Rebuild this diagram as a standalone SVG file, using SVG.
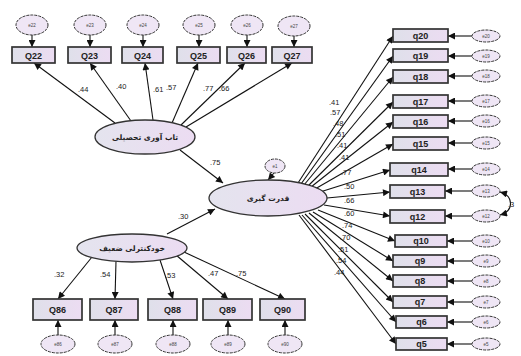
<svg xmlns="http://www.w3.org/2000/svg" width="521" height="356" viewBox="0 0 521 356">
<defs>
<linearGradient id="bx" x1="0" y1="0" x2="1" y2="0"><stop offset="0" stop-color="#dfe0ea"/><stop offset="1" stop-color="#ecdcf2"/></linearGradient>
<linearGradient id="lt" x1="0" y1="0" x2="1" y2="0"><stop offset="0" stop-color="#e4e4ee"/><stop offset="1" stop-color="#ecdcf2"/></linearGradient>
<marker id="ah" viewBox="0 0 10 10" refX="10" refY="5" markerWidth="9" markerHeight="7" markerUnits="userSpaceOnUse" orient="auto"><path d="M0,0 L10,5 L0,10 z" fill="#111"/></marker>
<marker id="as" viewBox="0 0 10 10" refX="0" refY="5" markerWidth="9" markerHeight="7" markerUnits="userSpaceOnUse" orient="auto"><path d="M10,0 L0,5 L10,10 z" fill="#111"/></marker>
<style>
.box{fill:url(#bx);stroke:#333;stroke-width:1.7}
.lat{fill:url(#lt);stroke:#333;stroke-width:1.3}
.err{fill:#efe6f5;stroke:#333;stroke-width:1;stroke-dasharray:3 1}
.bt{font-family:"Liberation Sans",Arial,sans-serif;font-weight:bold;font-size:9px;fill:#222;text-anchor:middle}
.et{font-family:"Liberation Sans",Arial,sans-serif;font-size:4.5px;fill:#444;text-anchor:middle}
.lt{font-family:"DejaVu Sans",sans-serif;font-weight:bold;font-size:7.5px;fill:#222;text-anchor:middle}
.pl{font-family:"Liberation Sans",Arial,sans-serif;font-size:7.5px;fill:#222}
.c{stroke:#111;stroke-width:1.1;fill:none;marker-end:url(#ah)}
</style>
</defs>
<rect width="521" height="356" fill="#fff"/>
<g id="connectors">
<line class="c" x1="115" y1="123" x2="34" y2="63"/>
<line class="c" x1="131" y1="121" x2="90" y2="63"/>
<line class="c" x1="153" y1="120" x2="145" y2="63"/>
<line class="c" x1="172" y1="123" x2="198" y2="63"/>
<line class="c" x1="181" y1="125" x2="245" y2="63"/>
<line class="c" x1="186" y1="127" x2="292" y2="63"/>
<line class="c" x1="32" y1="35" x2="32" y2="47"/>
<line class="c" x1="90" y1="35" x2="90" y2="47"/>
<line class="c" x1="143" y1="35" x2="143" y2="47"/>
<line class="c" x1="199" y1="35" x2="199" y2="47"/>
<line class="c" x1="247" y1="35" x2="247" y2="47"/>
<line class="c" x1="294" y1="36" x2="294" y2="47"/>
<line class="c" x1="180" y1="150" x2="223" y2="183"/>
<line class="c" x1="167" y1="234" x2="215" y2="209"/>
<line class="c" x1="274" y1="173" x2="268" y2="180"/>
<line class="c" x1="298" y1="183" x2="393" y2="36"/>
<line class="c" x1="301" y1="184" x2="393" y2="56"/>
<line class="c" x1="304" y1="185" x2="393" y2="77"/>
<line class="c" x1="308" y1="186" x2="393" y2="102"/>
<line class="c" x1="311" y1="187" x2="393" y2="122"/>
<line class="c" x1="315" y1="189" x2="393" y2="144"/>
<line class="c" x1="320" y1="192" x2="390" y2="170"/>
<line class="c" x1="327" y1="198" x2="390" y2="192"/>
<line class="c" x1="324" y1="205" x2="390" y2="216"/>
<line class="c" x1="318" y1="210" x2="395" y2="241"/>
<line class="c" x1="313" y1="212" x2="393" y2="261"/>
<line class="c" x1="309" y1="213" x2="393" y2="281"/>
<line class="c" x1="305" y1="214" x2="393" y2="302"/>
<line class="c" x1="302" y1="215" x2="396" y2="322"/>
<line class="c" x1="299" y1="215" x2="396" y2="344"/>
<line class="c" x1="472" y1="36" x2="448" y2="36"/>
<line class="c" x1="472" y1="56" x2="448" y2="56"/>
<line class="c" x1="472" y1="76" x2="448" y2="76"/>
<line class="c" x1="472" y1="101" x2="448" y2="101"/>
<line class="c" x1="472" y1="121" x2="448" y2="121"/>
<line class="c" x1="472" y1="143" x2="448" y2="143"/>
<line class="c" x1="472" y1="169" x2="448" y2="169"/>
<line class="c" x1="472" y1="191" x2="445" y2="191"/>
<line class="c" x1="472" y1="216" x2="445" y2="216"/>
<line class="c" x1="472" y1="241" x2="447" y2="241"/>
<line class="c" x1="472" y1="261" x2="447" y2="261"/>
<line class="c" x1="472" y1="281" x2="447" y2="281"/>
<line class="c" x1="472" y1="302" x2="447" y2="302"/>
<line class="c" x1="472" y1="322" x2="447" y2="322"/>
<line class="c" x1="472" y1="344" x2="447" y2="344"/>
<path d="M500,192 C514,196 514,211 500,215" stroke="#111" stroke-width="1.1" fill="none" marker-start="url(#as)" marker-end="url(#ah)"/>
<line class="c" x1="92" y1="257" x2="58" y2="299"/>
<line class="c" x1="116" y1="261" x2="115" y2="299"/>
<line class="c" x1="160" y1="260" x2="173" y2="299"/>
<line class="c" x1="176" y1="255" x2="228" y2="299"/>
<line class="c" x1="184" y1="252" x2="285" y2="299"/>
<line class="c" x1="58" y1="336" x2="58" y2="320"/>
<line class="c" x1="115" y1="336" x2="115" y2="320"/>
<line class="c" x1="173" y1="336" x2="173" y2="320"/>
<line class="c" x1="228" y1="336" x2="228" y2="320"/>
<line class="c" x1="285" y1="336" x2="285" y2="320"/>
</g>
<g id="labels">
<text class="pl" x="78" y="92">.44</text>
<text class="pl" x="116" y="89">.40</text>
<text class="pl" x="153" y="92">.61</text>
<text class="pl" x="166" y="90">.57</text>
<text class="pl" x="203" y="91">.77</text>
<text class="pl" x="219" y="91">.66</text>
<text class="pl" x="210" y="165">.75</text>
<text class="pl" x="178" y="219">.30</text>
<text class="pl" x="329" y="105">.41</text>
<text class="pl" x="330" y="115">.57</text>
<text class="pl" x="333" y="126">.48</text>
<text class="pl" x="335" y="137">.51</text>
<text class="pl" x="337" y="148">.41</text>
<text class="pl" x="339" y="160">.41</text>
<text class="pl" x="341" y="175">.77</text>
<text class="pl" x="344" y="189">.50</text>
<text class="pl" x="344" y="203">.66</text>
<text class="pl" x="344" y="216">.60</text>
<text class="pl" x="342" y="228">.74</text>
<text class="pl" x="340" y="240">.70</text>
<text class="pl" x="338" y="252">.51</text>
<text class="pl" x="336" y="263">.54</text>
<text class="pl" x="334" y="275">.44</text>
<text class="pl" x="54" y="277">.32</text>
<text class="pl" x="100" y="277">.54</text>
<text class="pl" x="165" y="278">.53</text>
<text class="pl" x="208" y="276">.47</text>
<text class="pl" x="236" y="276">.75</text>
<text class="pl" x="508" y="207">.3</text>
</g>
<g id="latent-resilience"><ellipse class="lat" cx="145" cy="137" rx="50" ry="17"/><text class="lt" x="145" y="140">تاب آوری تحصیلی</text></g>
<g id="latent-center"><ellipse class="lat" cx="268" cy="198" rx="59" ry="18"/><text class="lt" x="268" y="201">قدرت گیری</text></g>
<g id="latent-selfcontrol"><ellipse class="lat" cx="132" cy="248" rx="55" ry="14"/><text class="lt" x="132" y="251">خودکنترلی ضعیف</text></g>
<g id="e-center"><ellipse class="err" cx="275" cy="166" rx="10" ry="7"/><text class="et" x="275" y="168">e1</text></g>
<g id="Q22"><ellipse class="err" cx="32" cy="25" rx="16" ry="10"/><text class="et" x="32" y="27">e22</text><rect class="box" x="12" y="47" width="43" height="16"/><text class="bt" x="33.5" y="58.5">Q22</text></g>
<g id="Q23"><ellipse class="err" cx="90" cy="25" rx="16" ry="10"/><text class="et" x="90" y="27">e23</text><rect class="box" x="68" y="47" width="43" height="16"/><text class="bt" x="89.5" y="58.5">Q23</text></g>
<g id="Q24"><ellipse class="err" cx="143" cy="25" rx="16" ry="10"/><text class="et" x="143" y="27">e24</text><rect class="box" x="122" y="47" width="41" height="16"/><text class="bt" x="142.5" y="58.5">Q24</text></g>
<g id="Q25"><ellipse class="err" cx="199" cy="25" rx="16" ry="10"/><text class="et" x="199" y="27">e25</text><rect class="box" x="177" y="47" width="43" height="16"/><text class="bt" x="198.5" y="58.5">Q25</text></g>
<g id="Q26"><ellipse class="err" cx="247" cy="25" rx="16" ry="10"/><text class="et" x="247" y="27">e26</text><rect class="box" x="227" y="47" width="39" height="16"/><text class="bt" x="246.5" y="58.5">Q26</text></g>
<g id="Q27"><ellipse class="err" cx="294" cy="26" rx="16" ry="10"/><text class="et" x="294" y="28">e27</text><rect class="box" x="272" y="47" width="40" height="16"/><text class="bt" x="292" y="58.5">Q27</text></g>
<g id="q20"><rect class="box" x="393" y="29" width="55" height="13"/><text class="bt" x="420.5" y="38.5">q20</text><ellipse class="err" cx="486" cy="36" rx="14" ry="6"/><text class="et" x="486" y="37.5">e20</text></g>
<g id="q19"><rect class="box" x="393" y="49" width="55" height="13"/><text class="bt" x="420.5" y="58.5">q19</text><ellipse class="err" cx="486" cy="56" rx="14" ry="6"/><text class="et" x="486" y="57.5">e19</text></g>
<g id="q18"><rect class="box" x="393" y="70" width="55" height="13"/><text class="bt" x="420.5" y="79.5">q18</text><ellipse class="err" cx="486" cy="76" rx="14" ry="6"/><text class="et" x="486" y="77.5">e18</text></g>
<g id="q17"><rect class="box" x="393" y="95" width="55" height="13"/><text class="bt" x="420.5" y="104.5">q17</text><ellipse class="err" cx="486" cy="101" rx="14" ry="6"/><text class="et" x="486" y="102.5">e17</text></g>
<g id="q16"><rect class="box" x="393" y="115" width="55" height="13"/><text class="bt" x="420.5" y="124.5">q16</text><ellipse class="err" cx="486" cy="121" rx="14" ry="6"/><text class="et" x="486" y="122.5">e16</text></g>
<g id="q15"><rect class="box" x="393" y="137" width="55" height="13"/><text class="bt" x="420.5" y="146.5">q15</text><ellipse class="err" cx="486" cy="143" rx="14" ry="6"/><text class="et" x="486" y="144.5">e15</text></g>
<g id="q14"><rect class="box" x="390" y="163" width="58" height="13"/><text class="bt" x="419" y="172.5">q14</text><ellipse class="err" cx="486" cy="169" rx="14" ry="6"/><text class="et" x="486" y="170.5">e14</text></g>
<g id="q13"><rect class="box" x="390" y="185" width="55" height="13"/><text class="bt" x="417.5" y="194.5">q13</text><ellipse class="err" cx="486" cy="191" rx="14" ry="6"/><text class="et" x="486" y="192.5">e13</text></g>
<g id="q12"><rect class="box" x="390" y="210" width="55" height="13"/><text class="bt" x="417.5" y="219.5">q12</text><ellipse class="err" cx="486" cy="216" rx="14" ry="6"/><text class="et" x="486" y="217.5">e12</text></g>
<g id="q10"><rect class="box" x="395" y="235" width="52" height="12"/><text class="bt" x="421" y="244">q10</text><ellipse class="err" cx="486" cy="241" rx="14" ry="6"/><text class="et" x="486" y="242.5">e10</text></g>
<g id="q9"><rect class="box" x="393" y="255" width="54" height="12"/><text class="bt" x="420" y="264">q9</text><ellipse class="err" cx="486" cy="261" rx="14" ry="6"/><text class="et" x="486" y="262.5">e9</text></g>
<g id="q8"><rect class="box" x="393" y="275" width="54" height="12"/><text class="bt" x="420" y="284">q8</text><ellipse class="err" cx="486" cy="281" rx="14" ry="6"/><text class="et" x="486" y="282.5">e8</text></g>
<g id="q7"><rect class="box" x="393" y="296" width="54" height="12"/><text class="bt" x="420" y="305">q7</text><ellipse class="err" cx="486" cy="302" rx="14" ry="6"/><text class="et" x="486" y="303.5">e7</text></g>
<g id="q6"><rect class="box" x="396" y="316" width="51" height="12"/><text class="bt" x="421.5" y="325">q6</text><ellipse class="err" cx="486" cy="322" rx="14" ry="6"/><text class="et" x="486" y="323.5">e6</text></g>
<g id="q5"><rect class="box" x="396" y="338" width="51" height="12"/><text class="bt" x="421.5" y="347">q5</text><ellipse class="err" cx="486" cy="344" rx="14" ry="6"/><text class="et" x="486" y="345.5">e5</text></g>
<g id="Q86"><rect class="box" x="33" y="299" width="49" height="21"/><text class="bt" x="57.5" y="313">Q86</text><ellipse class="err" cx="58" cy="344" rx="17" ry="9"/><text class="et" x="58" y="346">e86</text></g>
<g id="Q87"><rect class="box" x="90" y="299" width="48" height="21"/><text class="bt" x="114" y="313">Q87</text><ellipse class="err" cx="115" cy="344" rx="17" ry="9"/><text class="et" x="115" y="346">e87</text></g>
<g id="Q88"><rect class="box" x="148" y="299" width="49" height="21"/><text class="bt" x="172.5" y="313">Q88</text><ellipse class="err" cx="173" cy="344" rx="17" ry="9"/><text class="et" x="173" y="346">e88</text></g>
<g id="Q89"><rect class="box" x="203" y="299" width="49" height="21"/><text class="bt" x="227.5" y="313">Q89</text><ellipse class="err" cx="228" cy="344" rx="17" ry="9"/><text class="et" x="228" y="346">e89</text></g>
<g id="Q90"><rect class="box" x="260" y="299" width="45" height="21"/><text class="bt" x="282.5" y="313">Q90</text><ellipse class="err" cx="285" cy="344" rx="17" ry="9"/><text class="et" x="285" y="346">e90</text></g>
</svg>
